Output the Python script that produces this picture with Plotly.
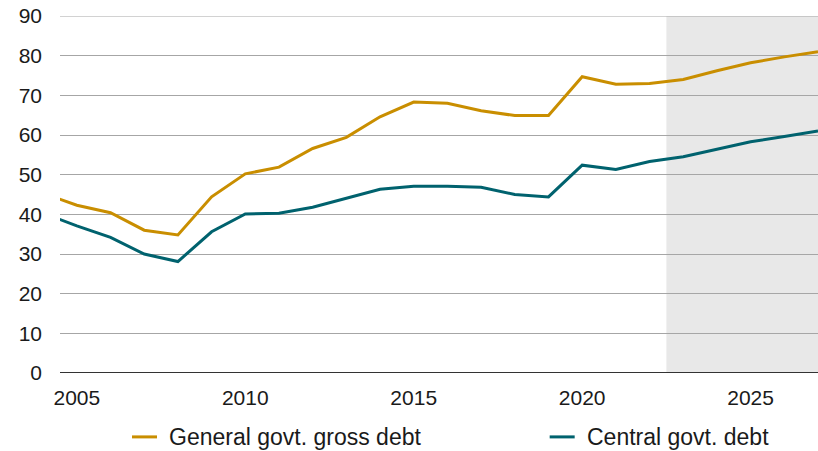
import plotly.graph_objects as go

years = list(range(2004, 2028))
general_debt = [45.3, 42.3, 40.4, 36.0, 34.8, 44.4, 50.2, 51.9, 56.6, 59.4, 64.6, 68.3,
                68.0, 66.1, 64.9, 64.9, 74.7, 72.8, 73.0, 74.0, 76.2, 78.2, 79.7, 81.0]
central_debt = [40.3, 37.1, 34.2, 30.0, 28.1, 35.6, 40.1, 40.3, 41.8, 44.0, 46.3, 47.1,
                47.1, 46.8, 45.0, 44.4, 52.4, 51.3, 53.3, 54.5, 56.4, 58.3, 59.6, 61.0]
series_names = ["General govt. gross debt", "Central govt. debt"]
series_colors = ["#C98E00", "#00626E"]
forecast_start = 2022.5
x_range = [2004.5, 2027.0]
y_ticks = list(range(0, 100, 10))
x_ticks = [2005, 2010, 2015, 2020, 2025]

FONT = "Liberation Sans, Arial, sans-serif"

fig = go.Figure()
for name, vals, col in zip(series_names, [general_debt, central_debt], series_colors):
    fig.add_trace(go.Scatter(x=years, y=vals, mode="lines", name=name,
                             line=dict(color=col, width=3), showlegend=False,
                             cliponaxis=True))

fig.add_vrect(x0=forecast_start, x1=x_range[1], fillcolor="#E8E8E8", line_width=0, layer="below")
# top gridline (at the range edge)
fig.add_shape(type="line", xref="paper", yref="y", x0=0, x1=1, y0=y_ticks[-1], y1=y_ticks[-1],
              line=dict(color="#A6A6A6", width=1), layer="below")

# manual legend
legend_items = [(0.095, 0.128, 0.141), (0.646, 0.679, 0.693)]
for (x0, x1, xt), name, col in zip(legend_items, series_names, series_colors):
    fig.add_shape(type="line", xref="paper", yref="paper", x0=x0, x1=x1, y0=-0.179, y1=-0.179,
                  line=dict(color=col, width=3))
    fig.add_annotation(xref="paper", yref="paper", x=xt, y=-0.179, text=name, showarrow=False,
                       xanchor="left", yanchor="middle", font=dict(family=FONT, size=23, color="#1a1a1a"))

fig.update_layout(
    width=818, height=451, autosize=False,
    margin=dict(l=60, r=0, t=16, b=78),
    paper_bgcolor="white", plot_bgcolor="white",
    font=dict(family=FONT, size=21, color="#1a1a1a"),
    xaxis=dict(range=x_range, tickvals=x_ticks, showgrid=False, zeroline=False,
               showline=False, ticks="", ticklabelstandoff=10, automargin=False,
               tickfont=dict(size=21), ticklabeloverflow="allow"),
    yaxis=dict(range=[0, 90], tickvals=y_ticks, showgrid=True, gridcolor="#A6A6A6",
               gridwidth=1, zeroline=False, showline=False, ticks="", ticklabelstandoff=17,
               layer="below traces", automargin=False, tickfont=dict(size=21),
               ticklabeloverflow="allow"),
)
fig.add_shape(type="line", xref="paper", yref="y", x0=0, x1=1, y0=0, y1=0,
              line=dict(color="#333333", width=2))

post = ("document.body.style.margin='0';document.body.style.overflow='hidden';"
        "var gd=document.getElementById('{plot_id}');"
        "Plotly.relayout(gd,{width:818,height:451});")
fig.write_html("out.html", post_script=post,
               config={"responsive": False, "displayModeBar": False})
